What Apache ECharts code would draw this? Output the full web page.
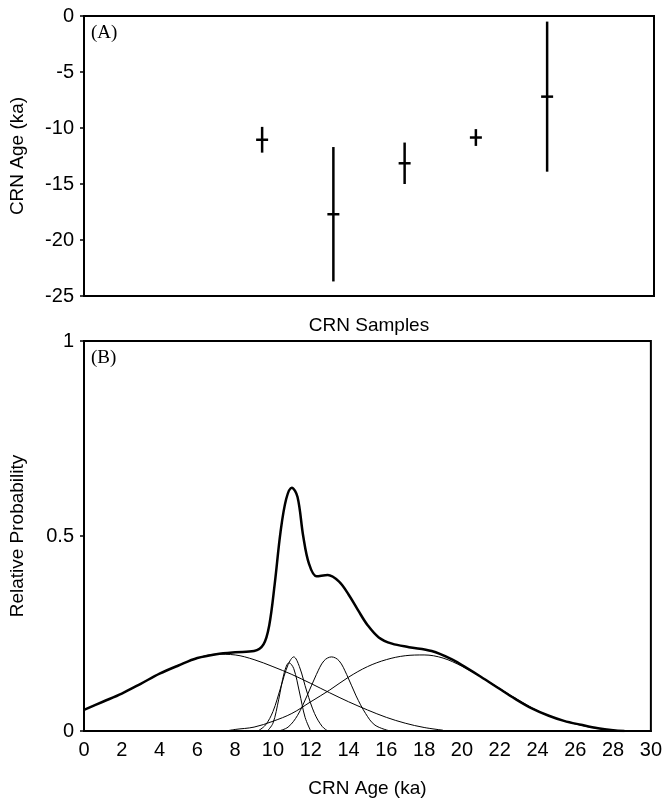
<!DOCTYPE html>
<html>
<head>
<meta charset="utf-8">
<script src="https://cdn.jsdelivr.net/npm/echarts@6/dist/echarts.min.js"></script>
<style>
  html, body { margin: 0; padding: 0; background: #fff; }
  #main { width: 665px; height: 803px; }
</style>
</head>
<body>
<div id="main"></div>
<script>
// panel A: sample ages with error bars
var samplePos = [2.5, 3.5, 4.5, 5.5, 6.5];
var sampleAge = [-11.05, -17.7, -13.15, -10.85, -7.2];
var sampleErr = [1.15, 6.0, 1.85, 0.75, 6.7];

// panel B: summed probability curve
var sumX = [0, 1, 2, 3, 4, 5, 6, 7, 8, 9, 9.5, 9.8, 10.1, 10.4, 10.7, 11.0, 11.3, 11.6, 11.9, 12.3, 12.9, 13.5, 14.0, 14.5, 15.0, 15.6, 16.3, 17.2, 18.4, 19.5, 20.2, 21.0, 21.9, 22.8, 23.7, 24.6, 25.4, 26.3, 27.2, 28.0, 28.6];
var sumY = [0.054, 0.075, 0.096, 0.121, 0.147, 0.168, 0.187, 0.197, 0.202, 0.205, 0.222, 0.27, 0.38, 0.51, 0.595, 0.624, 0.60, 0.50, 0.43, 0.397, 0.40, 0.383, 0.35, 0.31, 0.272, 0.24, 0.224, 0.215, 0.205, 0.183, 0.163, 0.139, 0.111, 0.083, 0.058, 0.039, 0.026, 0.016, 0.007, 0.002, 0];

// individual sample curves
var c1X = [0, 1, 2, 3, 4, 5, 6, 7, 8, 9, 10, 11, 12, 13, 14, 15, 16, 17, 18, 19];
var c1Y = [0.054, 0.075, 0.096, 0.121, 0.147, 0.168, 0.187, 0.197, 0.195, 0.183, 0.165, 0.145, 0.122, 0.098, 0.075, 0.054, 0.035, 0.02, 0.009, 0.002];
var c2X = [9.2, 9.6, 10.0, 10.4, 10.8, 11.1, 11.4, 11.8, 12.2, 12.6, 12.9];
var c2Y = [0, 0.015, 0.05, 0.11, 0.17, 0.19, 0.165, 0.1, 0.045, 0.012, 0];
var c3X = [9.7, 10.0, 10.3, 10.6, 10.85, 11.1, 11.4, 11.7, 12.0];
var c3Y = [0, 0.02, 0.08, 0.15, 0.175, 0.16, 0.1, 0.035, 0];
var c4X = [10.3, 10.8, 11.3, 11.8, 12.3, 12.7, 13.1, 13.5, 13.9, 14.4, 14.9, 15.4, 16.2];
var c4Y = [0, 0.01, 0.04, 0.09, 0.145, 0.18, 0.19, 0.18, 0.145, 0.09, 0.045, 0.015, 0];
var c5X = [7.5, 8, 9, 10, 11, 12, 13, 14, 15, 16, 17, 18, 19, 20, 21, 22, 23, 24, 25, 26, 27, 28, 28.6];
var c5Y = [0, 0.004, 0.01, 0.025, 0.045, 0.075, 0.105, 0.138, 0.165, 0.183, 0.193, 0.195, 0.187, 0.166, 0.139, 0.109, 0.079, 0.052, 0.032, 0.018, 0.008, 0.002, 0];

function pairs(xs, ys) {
    var out = [];
    for (var i = 0; i < xs.length; i++) {
        out.push([xs[i], ys[i]]);
    }
    return out;
}

var errData = [];
for (var i = 0; i < samplePos.length; i++) {
    errData.push([samplePos[i], sampleAge[i], sampleErr[i]]);
}

var font = "Liberation Sans, Arial, sans-serif";
var serif = "Liberation Serif, Times New Roman, serif";

var myChart = echarts.init(document.getElementById("main"), null, { renderer: "canvas" });

function curve(xs, ys, w) {
    return {
        type: "line",
        xAxisIndex: 1,
        yAxisIndex: 1,
        data: pairs(xs, ys),
        smooth: 0.35,
        showSymbol: false,
        silent: true,
        lineStyle: { color: "#000", width: w },
        z: w > 1 ? 5 : 3
    };
}

var option = {
    animation: false,
    backgroundColor: "#fff",
    title: [
        { text: "(A)", left: 91, top: 24, padding: 0, textStyle: { fontFamily: serif, fontSize: 19, fontWeight: "normal", color: "#000" } },
        { text: "(B)", left: 91, top: 349, padding: 0, textStyle: { fontFamily: serif, fontSize: 19, fontWeight: "normal", color: "#000" } }
    ],
    grid: [
        { left: 84, top: 16, width: 570, height: 280, show: true, borderColor: "#000", borderWidth: 2 },
        { left: 84, top: 341, width: 570, height: 405, show: true, borderColor: "#000", borderWidth: 2 }
    ],
    xAxis: [
        {
            gridIndex: 0, type: "value", min: 0, max: 8,
            name: "CRN Samples", nameLocation: "middle", nameGap: 20,
            nameTextStyle: { fontFamily: font, fontSize: 19, color: "#000" },
            axisLine: { lineStyle: { color: "#000", width: 2 } },
            axisTick: { show: false }, axisLabel: { show: false }, splitLine: { show: false }
        },
        {
            gridIndex: 1, type: "value", min: 0, max: 30, interval: 2,
            name: "CRN Age (ka)", nameLocation: "middle", nameGap: 48,
            nameTextStyle: { fontFamily: font, fontSize: 19, color: "#000" },
            axisLine: { lineStyle: { color: "#000", width: 2 } },
            axisTick: { show: false },
            axisLabel: { fontFamily: font, fontSize: 20, color: "#000", margin: 9 },
            splitLine: { show: false }
        }
    ],
    yAxis: [
        {
            gridIndex: 0, type: "value", min: -25, max: 0, interval: 5,
            name: "CRN Age (ka)", nameLocation: "middle", nameGap: 57,
            nameTextStyle: { fontFamily: font, fontSize: 19, color: "#000" },
            axisLine: { lineStyle: { color: "#000", width: 2 } },
            axisTick: { show: true, length: 4, lineStyle: { color: "#000", width: 1.5 } },
            axisLabel: { fontFamily: font, fontSize: 20, color: "#000", margin: 10 },
            splitLine: { show: false }
        },
        {
            gridIndex: 1, type: "value", min: 0, max: 1, interval: 0.5,
            name: "Relative Probability", nameLocation: "middle", nameGap: 57,
            nameTextStyle: { fontFamily: font, fontSize: 19, color: "#000" },
            axisLine: { lineStyle: { color: "#000", width: 2 } },
            axisTick: { show: true, length: 4, lineStyle: { color: "#000", width: 1.5 } },
            axisLabel: { fontFamily: font, fontSize: 20, color: "#000", margin: 10 },
            splitLine: { show: false }
        }
    ],
    series: [
        {
            type: "custom",
            xAxisIndex: 0,
            yAxisIndex: 0,
            data: errData,
            renderItem: function (params, api) {
                var x = api.value(0), y = api.value(1), e = api.value(2);
                var top = api.coord([x, y + e]);
                var bot = api.coord([x, y - e]);
                var mid = api.coord([x, y]);
                return {
                    type: "group",
                    children: [
                        { type: "line", shape: { x1: top[0], y1: top[1], x2: bot[0], y2: bot[1] }, style: { stroke: "#000", lineWidth: 2.5 } },
                        { type: "line", shape: { x1: mid[0] - 6, y1: mid[1], x2: mid[0] + 6, y2: mid[1] }, style: { stroke: "#000", lineWidth: 2.5 } }
                    ]
                };
            }
        },
        curve(c1X, c1Y, 1),
        curve(c2X, c2Y, 1),
        curve(c3X, c3Y, 1),
        curve(c4X, c4Y, 1),
        curve(c5X, c5Y, 1),
        curve(sumX, sumY, 2.5)
    ]
};

myChart.setOption(option);
</script>
</body>
</html>
